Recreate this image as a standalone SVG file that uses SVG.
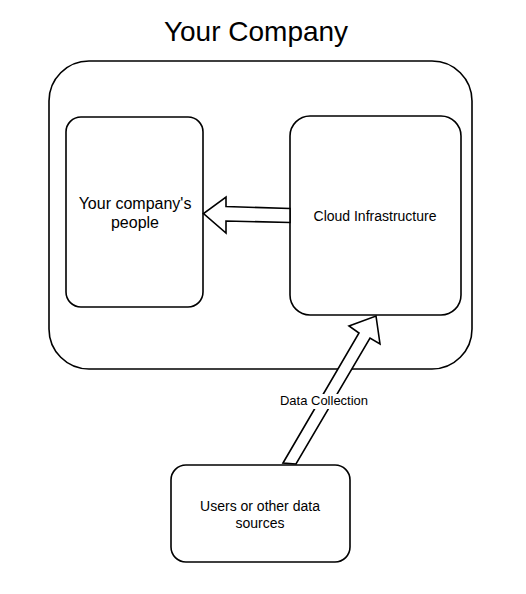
<svg xmlns="http://www.w3.org/2000/svg" width="526" height="594" viewBox="0 0 526 594">
<style>
.box{fill:#fff;stroke:#000;stroke-width:1.6}
.arrow{fill:#fff;stroke:#000;stroke-width:1.6;stroke-linejoin:miter}
text{font-family:"Liberation Sans",Arial,sans-serif;fill:#000;text-anchor:middle}
.lbl{font-size:14px}
</style>
<rect width="526" height="594" fill="#fff"/>
<g id="title"><text x="256" y="41" style="font-size:28px">Your Company</text></g>
<g id="company"><rect class="box" x="49" y="61" width="423" height="308" rx="40" ry="40"/></g>
<g id="people"><rect class="box" x="66" y="117" width="137" height="190" rx="15" ry="15"/>
<text x="135" y="209" style="font-size:16px">Your company's</text><text x="135" y="228" style="font-size:16px">people</text></g>
<g id="cloud"><rect class="box" x="290" y="116" width="171" height="199" rx="20" ry="20"/>
<text class="lbl" x="375" y="221">Cloud Infrastructure</text></g>
<g id="users"><rect class="box" x="171" y="465" width="179" height="97" rx="15" ry="15"/>
<text class="lbl" x="260" y="511">Users or other data</text><text class="lbl" x="260" y="528">sources</text></g>
<g id="connectors">
<polygon class="arrow" points="290,208.5 226,206.5 226,197 203.5,213.5 226,233 226,221 290,222.5"/>
<polygon class="arrow" points="283,463 359,333 349,326 376,316 380,344 370,338 296,464"/>
<rect x="278" y="394" width="92" height="15" fill="#fff"/>
<text x="324" y="405" style="font-size:13px">Data Collection</text>
</g>
</svg>
